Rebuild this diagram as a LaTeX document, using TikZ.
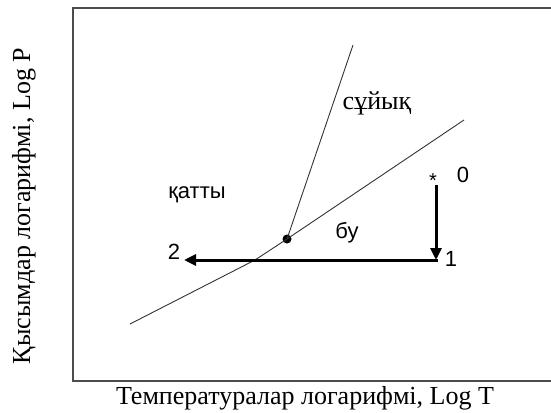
\documentclass[tikz,border=0pt]{standalone}
\usepackage{fontspec}
\setmainfont{Liberation Serif}
\setsansfont{Liberation Sans}
\usetikzlibrary{arrows.meta}
\begin{document}
\begin{tikzpicture}[x=1pt,y=-1pt,
  frame/.style={draw=black!70,line width=1.4pt},
  thin line/.style={draw=black!80,line width=0.9pt},
  bold arrow/.style={draw=black,line width=3pt,-{Triangle[length=12pt,width=11pt]}},
  sanslabel/.style={font=\sffamily\fontsize{22}{24}\selectfont,inner sep=0pt},
  seriflabel/.style={font=\fontsize{26}{28}\selectfont,inner sep=0pt}]
\useasboundingbox (0,0) rectangle (551,412);
\coordinate (bl) at (73,381);
\coordinate (tl) at (73,8);
\coordinate (tr) at (551,8);
\coordinate (br) at (551,381);
\draw[frame] (tr) -- (tl) -- (bl) -- (br);
% triple point
\node[circle,fill=black,inner sep=0pt,minimum size=9pt] (tp) at (287,239) {};
\coordinate (liqtop) at (353,45);
\coordinate (vapL) at (130,324);
\coordinate (vapM) at (255,260);
\coordinate (vapR) at (464,120);
\draw[thin line] (tp.center) -- (liqtop);
\draw[thin line] (vapL) -- (vapM) -- (tp.center) -- (vapR);
% process
\node[inner sep=0pt,font=\sffamily\fontsize{20}{20}\selectfont] (star) at (433,181) {*};
\coordinate (p1) at (436,260);
\coordinate (p2) at (184,260);
\coordinate (p0) at (436,185);
\draw[bold arrow] (p0) -- (p1);
\draw[bold arrow] ([xshift=1.5pt]p1) -- (p2);
\node[sanslabel] (l0) at (463,175) {0};
\node[sanslabel] (l1) at (451,259) {1};
\node[sanslabel] (l2) at (174,252) {2};
\node[sanslabel] (vap) at (347,233) {бу};
\node[sanslabel] (sol) at (197,195) {қатты};
\node[seriflabel] (liq) at (377,103) {сұйық};
\node[seriflabel,rotate=90] (ylab) at (24,206) {Қысымдар логарифмі, Log P};
\node[seriflabel] (xlab) at (305,398) {Температуралар логарифмі, Log T};
\end{tikzpicture}
\end{document}
